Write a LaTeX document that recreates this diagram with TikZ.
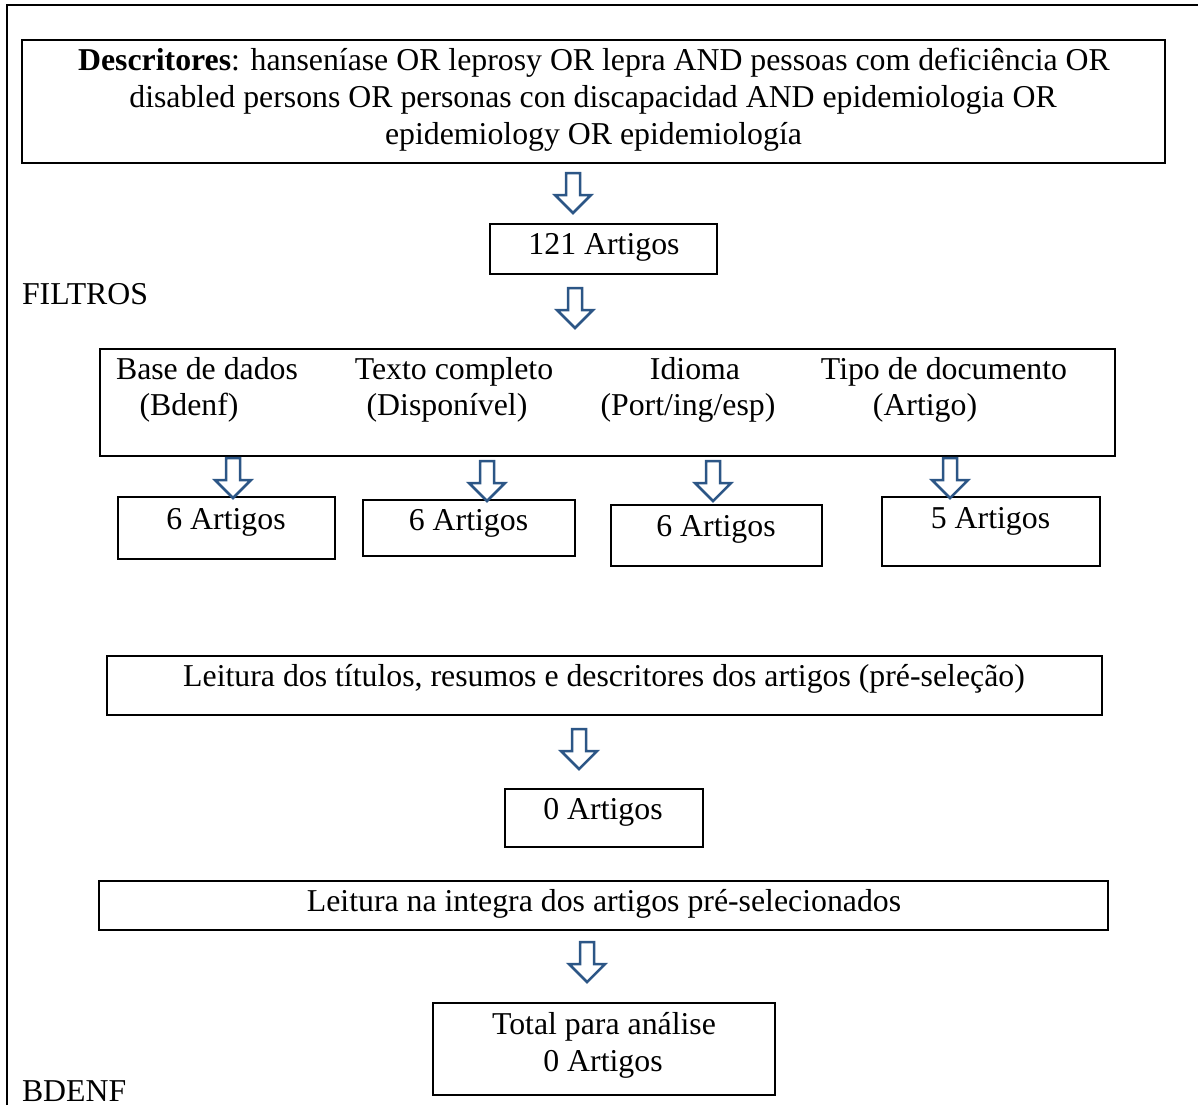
\documentclass[tikz,border=0pt]{standalone}
\usepackage{fontspec}
\setmainfont{Liberation Serif}
\definecolor{arrblue}{RGB}{44,86,134}
\tikzset{
  box/.style={draw=black, line width=2pt, inner sep=0pt, outer sep=0pt},
  txt/.style={inner sep=0pt, outer sep=0pt, anchor=base, text=black},
  hollow/.style={draw=arrblue, line width=2.5pt, fill=white, line join=miter},
}
\newcommand{\mybox}[5]{%
  \node[box, minimum width={(#4-#2)*1pt}, minimum height={(#5-#3)*1pt}] (#1) at ({(#2+#4)/2},{(#3+#5)/2}) {};}
\newcommand{\downarr}[2]{%
  \draw[hollow] ({#1-7},#2) -- ({#1+7},#2) -- ({#1+7},{#2+22}) -- ({#1+18},{#2+22}) -- (#1,{#2+40}) -- ({#1-18},{#2+22}) -- ({#1-7},{#2+22}) -- cycle;}
\begin{document}
\begin{tikzpicture}[x=1pt,y=-1pt, font=\fontsize{31.8}{36}\selectfont]
\useasboundingbox (0,0) rectangle (1198,1105);
% outer frame (top and left)
\draw[line width=2.5pt] (7,1105) -- (7,5) -- (1198,5);
% boxes
\mybox{desc}{22}{40}{1165}{163}
\mybox{art121}{490}{224}{717}{274}
\mybox{filt}{100}{349}{1115}{456}
\mybox{fa}{118}{497}{335}{559}
\mybox{fb}{363}{500}{575}{556}
\mybox{fc}{611}{505}{822}{566}
\mybox{fd}{882}{497}{1100}{566}
\mybox{lei1}{107}{656}{1102}{715}
\mybox{zero}{505}{789}{703}{847}
\mybox{lei2}{99}{881}{1108}{930}
\mybox{total}{433}{1003}{775}{1095}
% texts
\node[txt] (d1) at (594,71) {\textbf{Descritores}: hanseníase OR leprosy OR lepra AND pessoas com deficiência OR};
\node[txt] (d2) at (593,108) {disabled persons OR personas con discapacidad AND epidemiologia OR};
\node[txt] (d3) at (593.5,144) {epidemiology OR epidemiología};
\node[txt] (t121) at (604,254) {121 Artigos};
\node[txt, anchor=base west] (filtros) at (22,304) {FILTROS};
\node[txt] (c1a) at (207,379) {Base de dados};
\node[txt] (c1b) at (189,415) {(Bdenf)};
\node[txt] (c2a) at (454,379) {Texto completo};
\node[txt] (c2b) at (447,415) {(Disponível)};
\node[txt] (c3a) at (695,379) {Idioma};
\node[txt] (c3b) at (688,415) {(Port/ing/esp)};
\node[txt] (c4a) at (944,379) {Tipo de documento};
\node[txt] (c4b) at (925,415) {(Artigo)};
\node[txt] (ta) at (226,529) {6 Artigos};
\node[txt] (tb) at (468.5,530) {6 Artigos};
\node[txt] (tc) at (716,536) {6 Artigos};
\node[txt] (td) at (990.5,528) {5 Artigos};
\node[txt] (tl1) at (604,686) {Leitura dos títulos, resumos e descritores dos artigos (pré-seleção)};
\node[txt] (tz) at (603,819) {0 Artigos};
\node[txt] (tl2) at (604,911) {Leitura na integra dos artigos pré-selecionados};
\node[txt] (tt1) at (604,1034) {Total para análise};
\node[txt] (tt2) at (603,1071) {0 Artigos};
\node[txt, anchor=base west] (bdenf) at (22,1101) {BDENF};
% hollow arrows
\downarr{573}{173}
\downarr{575}{288}
\downarr{233}{458}
\downarr{487}{461}
\downarr{713}{461}
\downarr{950}{458}
\downarr{579}{729}
\downarr{587}{942}
\end{tikzpicture}
\end{document}
